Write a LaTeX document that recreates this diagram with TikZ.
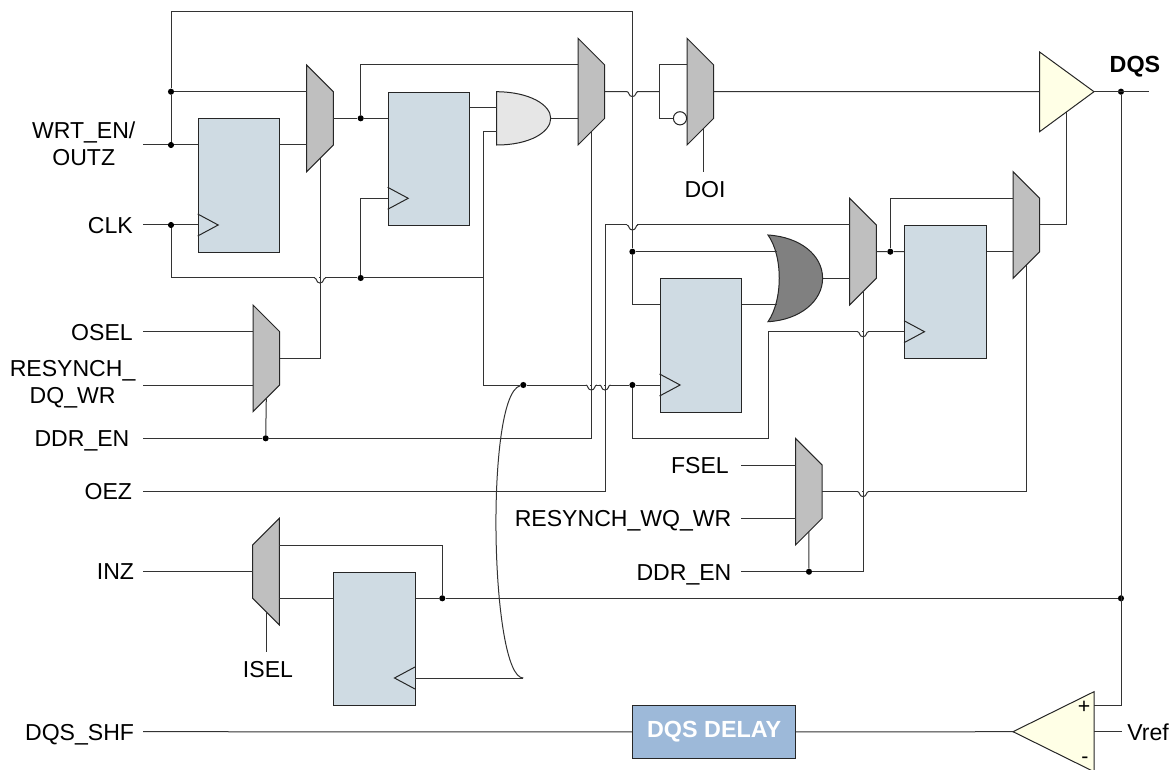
\documentclass[tikz,border=0pt]{standalone}
\usepackage{fontspec}
\setmainfont{Liberation Sans}

\definecolor{ffblue}{RGB}{207,219,227}
\definecolor{muxgray}{RGB}{191,191,191}
\definecolor{andgray}{RGB}{230,230,230}
\definecolor{orgray}{RGB}{128,128,128}
\definecolor{bufyellow}{RGB}{255,255,230}
\definecolor{dlyblue}{RGB}{157,185,217}

\tikzset{
  wire/.style={draw=black!80,line width=0.75pt},
  outline/.style={draw=black!85,line width=0.75pt,line join=miter},
  muxbody/.style={outline,fill=muxgray},
  ffbox/.style={outline,fill=ffblue,anchor=north west,inner sep=0pt,minimum width=61.2pt,minimum height=100pt},
  dot/.style={circle,fill=black,inner sep=0pt,minimum size=4.6pt},
  siglabel/.style={font=\fontsize{17.3}{20}\selectfont,inner xsep=7pt,inner ysep=0pt,text height=12.5pt,text depth=0pt},
  twolabel/.style={font=\fontsize{17.3}{20}\selectfont,inner xsep=5.5pt,inner ysep=0pt,align=center},
  hop/.pic={
    \draw [white,line width=1.4pt] (-5,0) -- (-0.9,0) (0.9,0) -- (5,0);
    \draw [wire] (-5.5,0) .. controls (-3,0) and (-4,-5) .. (0,-5) .. controls (4,-5) and (3,0) .. (5.5,0);
  }
}

\newcommand{\muxright}[3]{
  \draw [muxbody] (#2,#3) -- ++(26.7,26.7) -- ++(0,53.3) -- ++(-26.7,26.7) -- cycle;
  \coordinate (#1a) at (#2,#3+26.7);
  \coordinate (#1b) at (#2,#3+80);
  \coordinate (#1o) at (#2+26.7,#3+53.3);
  \coordinate (#1s) at (#2+13.3,#3+93.3);
}
\newcommand{\muxleft}[3]{
  \draw [muxbody] (#2,#3) -- ++(-26.7,26.7) -- ++(0,53.3) -- ++(26.7,26.7) -- cycle;
  \coordinate (#1a) at (#2,#3+26.7);
  \coordinate (#1b) at (#2,#3+80);
  \coordinate (#1o) at (#2-26.7,#3+53.3);
  \coordinate (#1s) at (#2-13.3,#3+93.3);
}

\begin{document}
\begin{tikzpicture}[x=0.75pt,y=0.75pt,yscale=-1,xscale=1]
\useasboundingbox (0,0) rectangle (1172,770);

%Shape: Mux
\muxright{ma}{306.7}{65}
\muxright{mb}{578}{38.3}
\muxright{mc}{687}{38.3}
\muxright{md}{849.7}{198.3}
\muxright{me}{1013}{171.7}
\muxright{mf}{253}{305}
\muxright{mg}{795.5}{438.3}
\muxleft{mh}{279.3}{518.3}

%Shape: Flip flops
\node (ffa) [ffbox] at (197.7,118.3) {};
\node (ffb) [ffbox] at (387.7,91.7) {};
\node (ffc) [ffbox] at (659.6,278.3) {};
\node (ffd) [ffbox] at (904,225) {};
\node (ffe) [ffbox] at (333.3,571.7) {};

%Shape: And gate
\draw [outline,fill=andgray] (496.7,91.7) .. controls (530,92) and (550.7,105) .. (550.7,118.3) .. controls (550.7,132) and (530,145) .. (496.7,145) -- cycle;
\coordinate (anda) at (496.7,107.7);
\coordinate (andb) at (496.7,131.7);
\coordinate (ando) at (550.7,118.3);
%Shape: Or gate
\draw [outline,fill=orgray] (768,235) .. controls (800,237) and (822.6,255) .. (822.6,278.3) .. controls (822.6,301) and (800,320) .. (768,321.7) .. controls (783,300) and (783,256) .. (768,235) -- cycle;
\coordinate (ora) at (776.5,251.7);
\coordinate (orb) at (776.5,305);
\coordinate (oro) at (822.6,278.3);
%Shape: Output buffer
\draw [outline,fill=bufyellow] (1039.6,52) -- (1094,91.7) -- (1039.6,131.7) -- cycle;
\coordinate (bufi) at (1039.6,91.7);
\coordinate (bufo) at (1094,91.7);
\coordinate (bufe) at (1066.7,112);
%Shape: Comparator
\draw [outline,fill=bufyellow] (1094,691.7) -- (1013,731.7) -- (1094,771.7) -- cycle;
\coordinate (cmpo) at (1013,731.7);
\coordinate (cmpp) at (1094,705);
\coordinate (cmpn) at (1094,731.7);

% Text Node
\node (wrt) [twolabel,anchor=east] at (143,144) {WRT\_EN/\\OUTZ};
\node (clk) [siglabel,anchor=east,inner xsep=7.5pt] at (143,225) {CLK};
\node (osel) [siglabel,anchor=east,inner xsep=7.5pt] at (143,331.7) {OSEL};
\node (resdq) [twolabel,anchor=east] at (143,384) {RESYNCH\_\\DQ\_WR};
\node (ddra) [siglabel,anchor=east,inner xsep=10pt] at (143,438.3) {DDR\_EN};
\node (oez) [siglabel,anchor=east,inner xsep=8pt] at (143,491.6) {OEZ};
\node (inz) [siglabel,anchor=east,inner xsep=6.5pt] at (143,571.6) {INZ};
\node (shf) [siglabel,anchor=east,inner xsep=6.5pt] at (143,731.7) {DQS\_SHF};
\node (fsel) [siglabel,anchor=east,inner xsep=9pt] at (741,465) {FSEL};
\node (reswq) [siglabel,anchor=east] at (741,518.3) {RESYNCH\_WQ\_WR};
\node (ddrb) [siglabel,anchor=east] at (741,571.7) {DDR\_EN};
\node (doi) [siglabel,anchor=north,inner ysep=6.75pt] at (705,171.7) {DOI};
\node (isel) [siglabel,anchor=north,inner ysep=6.75pt] at (268,651.7) {ISEL};
\node (dqs) [siglabel,font=\fontsize{17.5}{20}\selectfont\bfseries] at (1135,64) {DQS};
\node (vref) [siglabel,anchor=west,inner xsep=4pt] at (1121.7,731.7) {Vref};
\node (plus) [siglabel,font=\fontsize{16}{20}\selectfont,text height=10pt,inner xsep=0pt] at (1084,707) {+};
\node (minus) [siglabel,font=\fontsize{16}{20}\selectfont,text height=10pt,inner xsep=0pt] at (1085,757) {-};
\node (dly) [outline,fill=dlyblue,text=white,anchor=north west,inner sep=0pt,minimum width=122pt,minimum height=39.7pt,font=\fontsize{17.5}{20}\selectfont\bfseries] at (632.3,705) {DQS DELAY};

% Dots
\node (ja) [dot] at (171,91.7) {};
\node (jb) [dot] at (171,145) {};
\node (jc) [dot] at (171,225) {};
\node (jd) [dot] at (360.7,118.3) {};
\node (je) [dot] at (360.7,278) {};
\node (jf) [dot] at (632.4,251.7) {};
\node (jg) [dot] at (890.3,251.7) {};
\node (jh) [dot] at (1121,91.7) {};
\node (ji) [dot] at (523.3,385) {};
\node (jj) [dot] at (632.4,385) {};
\node (jk) [dot] at (265.7,438.3) {};
\node (jl) [dot] at (809,571.7) {};
\node (jm) [dot] at (442.3,598.3) {};
\node (jn) [dot] at (1121,598.3) {};

% Free wire ends
\coordinate (topl) at (171,12);
\coordinate (topr) at (632.4,12);
\coordinate (rail) at (483.3,278);
\coordinate (feed) at (659.6,91.7);
\coordinate (oezup) at (605,225);
\coordinate (dqsout) at (1149,91.7);
\coordinate (loopl) at (632.4,438.3);
\coordinate (loopr) at (768,438.3);
\coordinate (loopu) at (768,331.7);
\coordinate (clke) at (523.3,678);
\coordinate (doisel) at (703,129);

% Clock marks
\coordinate (cka) at (197.7,225);
\coordinate (ckb) at (387.7,198.3);
\coordinate (ckc) at (659.6,385);
\coordinate (ckd) at (904,331.7);
\coordinate (cke) at (415,678);
\foreach \ck in {cka,ckb,ckc,ckd} {
  \draw [outline] (\ck) ++(0,-11) -- ++(20.5,11) -- ++(-20.5,11);
}
\draw [outline] (cke) ++(0,-11) -- ++(-20.5,11) -- ++(20.5,11);

%Straight Lines
\draw [wire] (wrt.east |- jb) -- (jb) -- (ffa.west |- jb);
\draw [wire] (ffa.east |- jb) -- (mab);
\draw [wire] (jb) -- (ja) -- (topl) -- (topr) -- (jf) -- (jf |- orb) -- (ffc.west |- orb);
\draw [wire] (ja) -- (maa);
\draw [wire] (clk.east) -- (jc) -- (cka);
\draw [wire] (jc) -- (topl |- je) -- (je) -- (rail);
\draw [wire] (mao) -- (jd) -- (ffb.west |- jd);
\draw [wire] (jd) -- (jd |- mba) -- (mba);
\draw [wire] (je) -- (je |- ckb) -- (ckb);
\draw [wire] (ffb.east |- anda) -- (anda);
\draw [wire] (andb) -- (andb -| rail) -- (rail |- ji) -- (ji) -- (jj) -- (ckc);
\draw [wire] (ando) -- (mbb);
\draw [wire] (mbo) -- (feed);
\draw [wire] (mca) -- (mca -| feed) -- (mcb -| feed) -- (mcb);
\node (bubble) [circle,outline,fill=white,inner sep=0pt,minimum size=9.9pt] at (680,118.3) {};
\draw [wire] (mco) -- (bufi);
\draw [wire] (doisel) -- (doisel |- doi.north);
\draw [wire] (bufo) -- (dqsout);
\draw [wire] (jh) -- (jh |- cmpp) -- (cmpp);
\draw [wire] (vref.west) -- (cmpn);
\draw [wire] (cmpo) -- (dly.east);
\draw [wire] (dly.west) -- (shf.east);
\draw [wire] (oez.east) -- (oez.east -| oezup) -- (oezup) -- (mda);
\draw [wire] (jf) -- (ora);
\draw [wire] (ffc.east |- orb) -- (orb);
\draw [wire] (oro) -- (mdb);
\draw [wire] (mdo) -- (jg) -- (ffd.west |- jg);
\draw [wire] (jg) -- (jg |- mea) -- (mea);
\draw [wire] (ffd.east |- jg) -- (meb);
\draw [wire] (meo) -- (meo -| bufe) -- (bufe);
\draw [wire] (jj) -- (loopl) -- (loopr) -- (loopu) -- (ckd);
\draw [wire] (mbs) -- (mbs |- jk) -- (jk) -- (ddra.east);
\draw [wire] (mfs) -- (jk);
\draw [wire] (osel.east) -- (mfa);
\draw [wire] (resdq.east |- mfb) -- (mfb);
\draw [wire] (mfo) -- (mfo -| mas) -- (mas);
\draw [wire] (fsel.east) -- (mga);
\draw [wire] (reswq.east) -- (mgb);
\draw [wire] (ddrb.east) -- (jl) -- (jl -| mds) -- (mds);
\draw [wire] (mgs) -- (jl);
\draw [wire] (mgo) -- (mgo -| mes) -- (mes);
\draw [wire] (inz.east) -- (mho);
\draw [wire] (mha) -- (mha -| jm) -- (jm);
\draw [wire] (mhb) -- (ffe.west |- mhb);
\draw [wire] (ffe.east |- jm) -- (jm) -- (jn);
\draw [wire] (mhs) -- (mhs |- isel.north);
\draw [wire] (cke) -- (clke);
\draw [wire] (ji) .. controls (485,395) and (490,678) .. (clke);

% Wire hops
\pic at (topr |- mbo) {hop};
\pic at (topr |- oezup) {hop};
\pic at (mas |- je) {hop};
\pic at (mbs |- ji) {hop};
\pic at (oezup |- ji) {hop};
\pic at (mds |- ckd) {hop};
\pic at (mds |- mgo) {hop};

\end{tikzpicture}
\end{document}
